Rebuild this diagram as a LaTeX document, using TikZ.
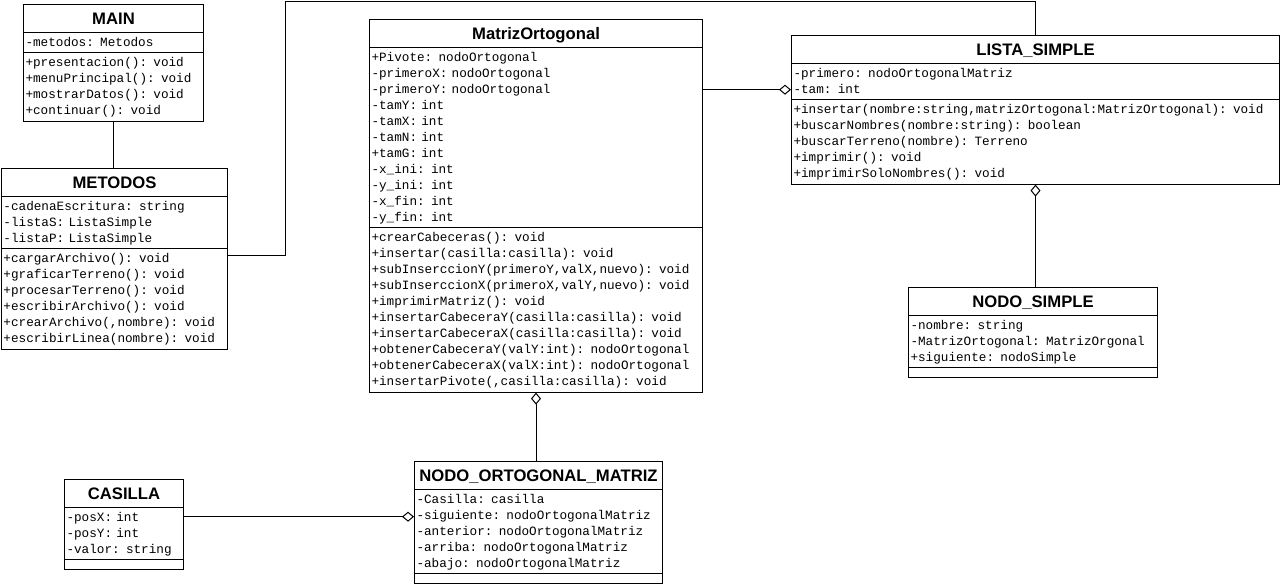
\documentclass[tikz,border=0pt]{standalone}
\usepackage{fontspec}
\setsansfont{Liberation Sans}
\setmonofont{Liberation Mono}
\usetikzlibrary{shapes.multipart,arrows.meta}

\def \rowFont {\ttfamily\fontsize{9.5pt}{12pt}\selectfont}
\newcommand\classname[1]{\centering\rule[-4.7pt]{0pt}{18pt}\sffamily\bfseries\fontsize{12.5pt}{14pt}\selectfont #1\par}
\newcommand\umlrow[1]{\noindent\strut #1\par}
\newcommand\emptyrow{\noindent\rule{0pt}{3.75pt}\par}

\tikzset{
  classbox/.style={draw, line width=0.75pt, rectangle split, rectangle split parts=3,
    anchor=north west, inner xsep=1.5pt, inner ysep=1.2pt, font=\rowFont},
  conn/.style={draw, line width=0.75pt},
  aggr/.style={conn, {Diamond[open,length=9pt,width=7.5pt]}-}
}

\begin{document}
\begin{tikzpicture}[x=0.75pt, y=-0.75pt]
  \useasboundingbox (0,0) rectangle (1280,583);

  \node[classbox, text width=132pt] (main) at (23,4) {\classname{MAIN}
    \nodepart{two}\umlrow{-metodos: Metodos}
    \nodepart{three}\umlrow{+presentacion(): void}\umlrow{+menuPrincipal(): void}
    \umlrow{+mostrarDatos(): void}\umlrow{+continuar(): void}};

  \node[classbox, text width=166.5pt] (metodos) at (1,168) {\classname{METODOS}
    \nodepart{two}\umlrow{-cadenaEscritura: string}\umlrow{-listaS: ListaSimple}
    \umlrow{-listaP: ListaSimple}
    \nodepart{three}\umlrow{+cargarArchivo(): void}\umlrow{+graficarTerreno(): void}
    \umlrow{+procesarTerreno(): void}\umlrow{+escribirArchivo(): void}
    \umlrow{+crearArchivo(,nombre): void}\umlrow{+escribirLinea(nombre): void}};

  \node[classbox, text width=246.75pt] (matriz) at (369,19) {\classname{MatrizOrtogonal}
    \nodepart{two}\umlrow{+Pivote: nodoOrtogonal}\umlrow{-primeroX: nodoOrtogonal}
    \umlrow{-primeroY: nodoOrtogonal}\umlrow{-tamY: int}\umlrow{-tamX: int}
    \umlrow{-tamN: int}\umlrow{+tamG: int}\umlrow{-x\_ini: int}\umlrow{-y\_ini: int}
    \umlrow{-x\_fin: int}\umlrow{-y\_fin: int}
    \nodepart{three}\umlrow{+crearCabeceras(): void}\umlrow{+insertar(casilla:casilla): void}
    \umlrow{+subInserccionY(primeroY,valX,nuevo): void}
    \umlrow{+subInserccionX(primeroX,valY,nuevo): void}
    \umlrow{+imprimirMatriz(): void}
    \umlrow{+insertarCabeceraY(casilla:casilla): void}
    \umlrow{+insertarCabeceraX(casilla:casilla): void}
    \umlrow{+obtenerCabeceraY(valY:int): nodoOrtogonal}
    \umlrow{+obtenerCabeceraX(valX:int): nodoOrtogonal}
    \umlrow{+insertarPivote(,casilla:casilla): void}};

  \node[classbox, text width=363pt] (lista) at (791,35) {\classname{LISTA\_SIMPLE}
    \nodepart{two}\umlrow{-primero: nodoOrtogonalMatriz}\umlrow{-tam: int}
    \nodepart{three}\umlrow{+insertar(nombre:string,matrizOrtogonal:MatrizOrtogonal): void}
    \umlrow{+buscarNombres(nombre:string): boolean}
    \umlrow{+buscarTerreno(nombre): Terreno}\umlrow{+imprimir(): void}
    \umlrow{+imprimirSoloNombres(): void}};

  \node[classbox, text width=183.75pt] (nodosimple) at (908,287) {\classname{NODO\_SIMPLE}
    \nodepart{two}\umlrow{-nombre: string}\umlrow{-MatrizOrtogonal: MatrizOrgonal}
    \umlrow{+siguiente: nodoSimple}
    \nodepart{three}\emptyrow};

  \node[classbox, text width=183pt] (nodoort) at (414,461) {\classname{NODO\_ORTOGONAL\_MATRIZ}
    \nodepart{two}\umlrow{-Casilla: casilla}\umlrow{-siguiente: nodoOrtogonalMatriz}
    \umlrow{-anterior: nodoOrtogonalMatriz}\umlrow{-arriba: nodoOrtogonalMatriz}
    \umlrow{-abajo: nodoOrtogonalMatriz}
    \nodepart{three}\emptyrow};

  \node[classbox, text width=86.25pt] (casilla) at (64,479) {\classname{CASILLA}
    \nodepart{two}\umlrow{-posX: int}\umlrow{-posY: int}\umlrow{-valor: string}
    \nodepart{three}\emptyrow};

  % connectors
  \coordinate (bend) at (285,1.5);
  \draw[conn] (main.south) -- (main.south |- metodos.north);
  \draw[conn] ([yshift=-5.25pt]metodos.two split east) -| (bend) -| (lista.north);
  \draw[aggr] ([yshift=-19.5pt]lista.text split west) coordinate (l) -- (l -| matriz.east);
  \draw[aggr] (lista.south) -- (lista.south |- nodosimple.north);
  \draw[aggr] (matriz.south) -- (matriz.south |- nodoort.north);
  \draw[aggr] ([yshift=-20.25pt]nodoort.text split west) coordinate (n) -- (n -| casilla.east);
\end{tikzpicture}
\end{document}
